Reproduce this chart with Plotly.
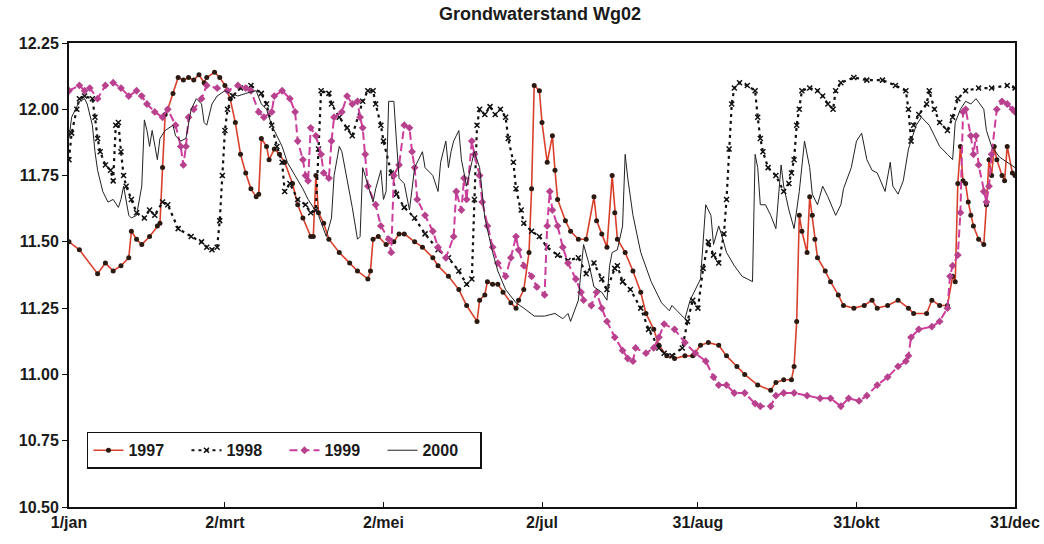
import plotly.graph_objects as go

# ---- data (day of year, groundwater level in m) ----
days_1997 = [0,4,11,14,17,20,23,24,26,28,
             31,34,35,36,37,38,40,42,44,46,
             48,50,52,53,56,58,60,62,64,66,
             68,70,72,73,74,76,77,79,81,83,
             86,88,90,93,94,95,96,98,100,104,
             108,111,115,116,117,119,122,125,127,129,
             133,136,140,142,146,150,153,157,158,160,
             161,163,165,167,170,172,173,175,177,178,
             179,181,182,184,186,187,188,191,193,196,
             199,202,203,205,207,209,210,211,214,217,
             220,222,225,227,230,233,237,240,243,246,
             250,253,257,260,265,270,272,275,278,279,
             280,281,282,284,285,286,287,288,291,293,
             296,298,302,306,309,311,315,319,323,325,
             330,332,335,338,340,341,342,343,344,345,
             346,347,348,350,352,353,354,355,356,357,
             359,360,361,363,364]
level_1997 = [11.50,11.47,11.38,11.42,11.39,11.41,11.44,11.54,11.51,11.49,
              11.52,11.56,11.57,11.78,11.98,12.00,12.06,12.12,12.11,12.12,
              12.11,12.13,12.10,12.12,12.14,12.12,12.09,12.04,11.95,11.83,
              11.76,11.70,11.67,11.68,11.89,11.86,11.81,11.85,11.83,11.80,
              11.72,11.64,11.59,11.52,11.52,11.75,11.61,11.57,11.51,11.46,
              11.42,11.39,11.36,11.39,11.51,11.52,11.49,11.50,11.53,11.53,
              11.50,11.48,11.44,11.41,11.37,11.32,11.26,11.20,11.28,11.30,
              11.35,11.34,11.34,11.31,11.27,11.25,11.28,11.32,11.46,11.70,
              12.09,12.07,11.95,11.80,11.90,11.77,11.66,11.58,11.54,11.51,
              11.51,11.67,11.58,11.53,11.48,11.75,11.61,11.51,11.46,11.39,
              11.31,11.23,11.17,11.11,11.07,11.06,11.07,11.07,11.11,11.12,
              11.11,11.07,11.03,11.00,10.96,10.94,10.97,10.98,10.98,11.03,
              11.20,11.60,11.54,11.46,11.67,11.60,11.51,11.44,11.39,11.35,
              11.30,11.26,11.25,11.26,11.28,11.25,11.26,11.28,11.25,11.23,
              11.23,11.28,11.26,11.26,11.37,11.35,11.72,11.86,11.73,11.72,
              11.65,11.60,11.56,11.51,11.49,11.64,11.81,11.75,11.86,11.81,
              11.75,11.73,11.86,11.76,11.75]

days_1998 = [0,1,3,4,6,9,10,11,12,14,
             16,17,18,19,20,21,22,24,26,29,
             31,33,36,38,42,47,51,53,55,57,
             58,59,60,61,63,66,70,74,76,78,
             80,82,83,85,88,91,93,95,96,97,
             100,101,104,107,109,113,115,117,118,120,
             121,124,126,129,133,137,142,146,150,153,
             155,156,157,158,160,162,164,166,168,169,
             171,172,174,175,178,181,184,188,192,196,
             199,202,205,207,210,211,213,216,220,223,
             227,229,232,236,238,240,242,244,246,248,
             250,252,253,254,255,256,258,261,264,265,
             266,267,269,272,275,277,278,279,280,281,
             282,285,288,290,292,294,295,297,302,307,
             313,318,322,323,324,325,327,330,331,333,
             335,338,340,342,345,350,355,361,364]
level_1998 = [11.81,11.91,12.00,12.04,12.05,12.04,11.97,11.89,11.84,11.79,
              11.77,11.73,11.94,11.95,11.84,11.75,11.71,11.66,11.61,11.59,
              11.62,11.60,11.65,11.64,11.55,11.52,11.50,11.48,11.47,11.48,
              11.58,11.75,11.92,12.00,12.05,12.08,12.09,12.06,12.02,11.94,
              11.86,11.80,11.69,11.72,11.66,11.64,11.61,11.62,11.85,12.07,
              12.06,12.02,11.97,11.93,11.90,12.03,12.07,12.07,12.02,11.94,
              11.88,11.76,11.68,11.63,11.59,11.53,11.47,11.44,11.39,11.34,
              11.36,11.66,11.94,12.00,11.98,12.01,11.98,12.00,11.97,11.89,
              11.80,11.70,11.62,11.57,11.54,11.52,11.48,11.45,11.43,11.44,
              11.38,11.42,11.36,11.32,11.40,11.41,11.35,11.32,11.25,11.17,
              11.10,11.08,11.07,11.10,11.20,11.28,11.25,11.40,11.50,11.45,
              11.42,11.53,11.66,11.85,12.02,12.08,12.10,12.09,12.07,11.97,
              11.89,11.84,11.78,11.75,11.69,11.72,11.76,11.81,11.94,12.00,
              12.07,12.08,12.07,12.05,12.02,12.00,12.07,12.10,12.12,12.11,
              12.11,12.09,12.07,12.00,11.88,11.94,11.98,12.02,12.07,12.00,
              11.95,11.92,11.97,12.04,12.07,12.08,12.08,12.09,12.08]

days_1999 = [0,4,6,8,11,14,17,20,23,26,
             28,30,33,36,38,41,43,44,45,46,
             48,51,53,57,61,65,68,70,73,75,
             78,79,82,85,87,88,90,91,92,93,
             95,97,98,100,101,102,105,107,109,111,
             112,113,114,115,118,120,123,124,125,127,
             129,131,132,133,134,137,140,142,145,148,
             149,151,152,153,155,156,158,159,161,163,
             165,168,170,172,173,175,178,180,183,184,
             185,186,188,190,192,195,197,198,201,203,
             205,207,210,213,215,217,218,222,225,227,
             229,233,237,241,245,248,250,253,256,260,
             264,266,270,272,275,279,284,289,293,297,
             300,304,307,311,315,319,322,323,324,327,
             332,335,338,339,340,342,343,344,345,347,
             348,349,350,352,353,354,355,357,359,361,
             363,364]
level_1999 = [12.07,12.09,12.07,12.08,12.04,12.09,12.10,12.08,12.05,12.07,
              12.05,12.02,11.99,11.97,12.00,11.94,11.86,11.79,11.86,11.97,
              12.00,12.04,12.09,12.08,12.07,12.09,12.08,12.07,11.99,11.97,
              11.99,12.05,12.07,12.04,11.99,11.88,11.81,11.75,11.73,11.93,
              11.90,11.83,11.76,11.74,11.88,11.97,11.99,12.05,12.02,12.03,
              11.97,11.93,11.83,11.71,11.64,11.56,11.51,11.46,11.75,11.79,
              11.94,11.93,11.84,11.78,11.66,11.60,11.54,11.48,11.44,11.52,
              11.69,11.62,11.74,11.66,11.88,11.83,11.75,11.65,11.56,11.48,
              11.42,11.37,11.44,11.52,11.47,11.41,11.37,11.33,11.30,11.56,
              11.69,11.62,11.56,11.48,11.42,11.36,11.31,11.28,11.26,11.31,
              11.25,11.20,11.14,11.09,11.06,11.05,11.10,11.08,11.10,11.14,
              11.19,11.17,11.12,11.08,11.05,10.99,10.96,10.96,10.93,10.93,
              10.89,10.88,10.88,10.92,10.93,10.93,10.92,10.91,10.91,10.88,
              10.91,10.90,10.92,10.96,10.99,11.03,11.05,11.07,11.14,11.17,
              11.18,11.20,11.25,11.37,11.41,11.45,11.61,11.99,12.00,11.90,
              11.83,11.90,11.79,11.69,11.65,11.71,11.83,12.00,12.03,12.02,
              12.00,11.99]

days_2000 = [0,1,4,6,7,9,10,11,13,15,
             17,19,20,21,23,24,26,28,29,30,
             31,32,34,35,37,40,41,43,45,47,
             49,51,52,53,55,57,60,62,65,68,
             72,74,76,78,82,84,87,90,92,96,
             99,101,102,104,105,107,109,111,112,113,
             115,117,118,120,121,122,123,125,126,127,
             129,131,132,133,136,137,140,142,143,145,
             146,147,148,150,151,153,155,156,158,160,
             163,165,168,172,175,179,183,187,190,192,
             193,196,197,198,200,202,205,207,208,209,
             211,213,214,215,217,220,224,228,231,232,
             234,237,239,241,243,245,247,248,250,251,
             253,256,259,261,263,264,265,266,268,270,
             272,274,275,277,279,281,283,285,286,288,
             290,292,295,297,298,301,303,305,307,309,
             311,314,316,317,319,321,323,326,328,331,
             333,335,338,340,341,343,345,347,349,352,
             353,355,358,361,364]
level_2000 = [11.89,11.97,12.03,12.04,12.02,11.94,11.84,11.77,11.69,11.65,
              11.66,11.63,11.66,11.71,11.60,11.59,11.60,11.71,11.96,11.92,
              11.86,11.92,11.81,11.89,11.92,11.94,11.90,11.88,11.89,12.00,
              12.04,12.02,11.95,11.94,12.02,12.05,12.07,12.06,12.05,12.06,
              12.07,12.02,12.00,11.94,11.86,11.80,11.75,11.70,11.66,11.60,
              11.52,11.59,11.75,11.86,11.84,11.74,11.63,11.51,11.52,11.78,
              11.71,11.65,11.70,11.77,11.66,11.69,12.03,12.03,11.88,11.74,
              11.72,11.62,11.70,11.78,11.84,11.78,11.75,11.69,11.80,11.88,
              11.78,11.84,11.88,11.92,11.81,11.71,11.80,11.84,11.78,11.59,
              11.46,11.39,11.32,11.27,11.25,11.22,11.22,11.23,11.21,11.23,
              11.20,11.28,11.39,11.49,11.42,11.33,11.31,11.28,11.41,11.46,
              11.47,11.56,11.83,11.74,11.60,11.46,11.35,11.27,11.24,11.26,
              11.24,11.21,11.28,11.32,11.36,11.64,11.60,11.49,11.56,11.53,
              11.46,11.41,11.37,11.36,11.35,11.83,11.78,11.64,11.64,11.60,
              11.55,11.79,11.71,11.62,11.55,11.69,11.88,11.78,11.68,11.64,
              11.71,11.67,11.60,11.64,11.70,11.78,11.88,11.91,11.81,11.77,
              11.76,11.69,11.80,11.71,11.68,11.73,11.85,11.94,11.97,11.94,
              11.90,11.86,11.83,11.81,11.95,12.00,12.03,12.02,12.04,12.00,
              11.92,11.86,11.82,11.80,11.78]

tick_days = [0, 60, 121, 182, 242, 303, 364]
tick_labels = ["1/jan", "2/mrt", "2/mei", "2/jul", "31/aug", "31/okt", "31/dec"]
y_ticks = [10.50, 10.75, 11.00, 11.25, 11.50, 11.75, 12.00, 12.25]

for d, v in [(days_1997, level_1997), (days_1998, level_1998),
             (days_1999, level_1999), (days_2000, level_2000)]:
    assert len(d) == len(v), (len(d), len(v))

FONT = "Liberation Sans, Arial, sans-serif"
TXT = "#1a1a1a"

fig = go.Figure()
fig.add_trace(go.Scatter(
    x=days_1997, y=level_1997, name="1997", mode="lines+markers",
    line=dict(color="#d9402c", width=1.6),
    marker=dict(symbol="circle", size=5, color="#2b1a12")))
fig.add_trace(go.Scatter(
    x=days_1998, y=level_1998, name="1998", mode="lines+markers",
    line=dict(color="#111111", width=2.2, dash="3px,4px"),
    marker=dict(symbol="x-thin", size=5, line=dict(color="#111111", width=1.5))))
fig.add_trace(go.Scatter(
    x=days_1999, y=level_1999, name="1999", mode="lines+markers",
    line=dict(color="#cc3d9c", width=2, dash="8px,4px"),
    marker=dict(symbol="diamond", size=6, color="#b8418e")))
fig.add_trace(go.Scatter(
    x=days_2000, y=level_2000, name="2000", mode="lines",
    line=dict(color="#222222", width=1)))

fig.update_layout(
    width=1044, height=544,
    margin=dict(l=69, r=29, t=43, b=37, autoexpand=False),
    paper_bgcolor="white", plot_bgcolor="white",
    font=dict(family=FONT, size=16, color=TXT),
    title=dict(text="Grondwaterstand Wg02", x=540 / 1044, xanchor="center",
               y=1 - 14 / 544, yanchor="middle", yref="container",
               font=dict(family=FONT, size=18, color=TXT, weight="bold")),
    showlegend=True,
    legend=dict(orientation="h", x=0.019, y=0.162, xanchor="left", yanchor="top",
                bgcolor="white", bordercolor="#111111", borderwidth=1.5,
                font=dict(family=FONT, size=16, color=TXT, weight="bold"),
                entrywidth=53, entrywidthmode="pixels", tracegroupgap=0),
)
fig.update_xaxes(
    range=[0, 364], tickvals=tick_days, ticktext=tick_labels,
    showgrid=False, zeroline=False, automargin=False,
    showline=True, linecolor="#111111", linewidth=2, mirror=True,
    ticks="inside", ticklen=5, tickcolor="#111111",
    tickfont=dict(family=FONT, size=16, color=TXT, weight="bold"))
fig.update_yaxes(
    range=[10.5, 12.25], tickvals=y_ticks, tickformat=".2f",
    showgrid=False, zeroline=False, automargin=False,
    showline=True, linecolor="#111111", linewidth=2, mirror=True,
    ticks="outside", ticklen=5, tickcolor="#111111",
    tickfont=dict(family=FONT, size=16, color=TXT, weight="bold"))

fig.write_html("out.html")
